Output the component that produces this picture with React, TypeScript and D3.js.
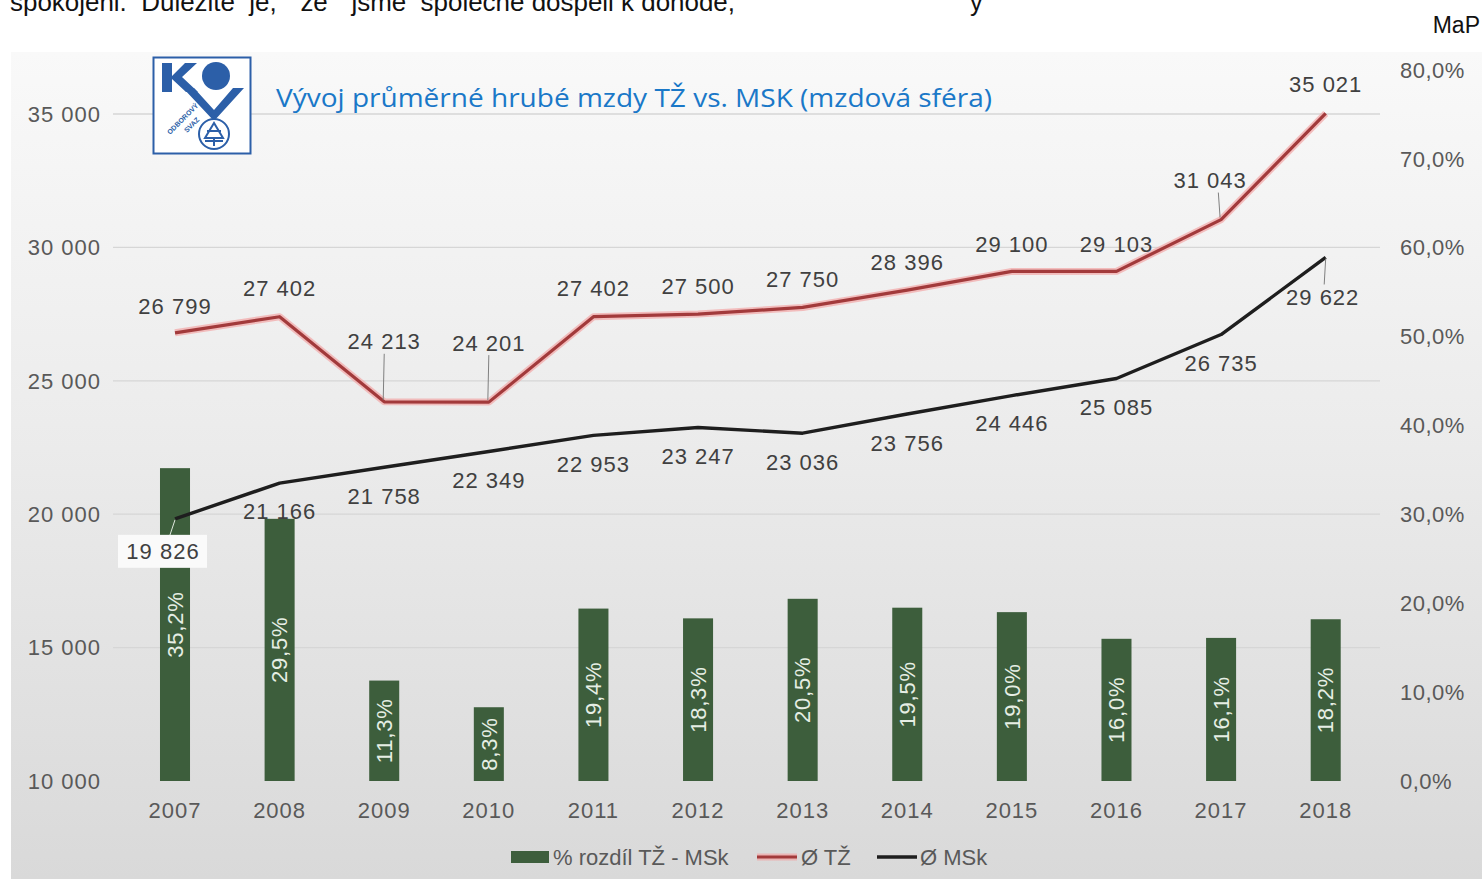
import React from "react";
import * as d3 from "d3";

const years = ["2007","2008","2009","2010","2011","2012","2013","2014","2015","2016","2017","2018"];
const diffPct = [35.2, 29.5, 11.3, 8.3, 19.4, 18.3, 20.5, 19.5, 19.0, 16.0, 16.1, 18.2];
const wageTZ = [26799, 27402, 24213, 24201, 27402, 27500, 27750, 28396, 29100, 29103, 31043, 35021];
const wageMSK = [19826, 21166, 21758, 22349, 22953, 23247, 23036, 23756, 24446, 25085, 26735, 29622];
const leftTicks = [10000, 15000, 20000, 25000, 30000, 35000];
const rightTicks = [0, 10, 20, 30, 40, 50, 60, 70, 80];
const legendLabels = ["% rozdíl TŽ - MSk", "Ø TŽ", "Ø MSk"];
const titleText = "Vývoj průměrné hrubé mzdy TŽ vs. MSK (mzdová sféra)";

// label layout offsets (dx, dy) relative to each point, and whether a leader line is drawn
const tzLabelOffset: [number, number, boolean][] = [
  [0, -27, false], [0, -28, false], [0, -60, true], [0, -59, true], [0, -28, false], [0, -28, false],
  [0, -28, false], [0, -28, false], [0, -27, false], [0, -27, false], [-11, -39, true], [0, -29, false],
];
const mskLabelOffset: [number, number, boolean][] = [
  [-12, 32, true], [0, 28, false], [0, 29, false], [0, 29, false], [0, 29, false], [0, 29, false],
  [0, 29, false], [0, 29, false], [0, 28, false], [0, 29, false], [0, 29, false], [-3, 40, true],
];

const fmt = (v: number) => d3.format(",")(v).replace(/,/g, " ");
const fmtPct = (v: number) => v.toFixed(1).replace(".", ",") + "%";

const W = 1482, H = 879;
const FONT = "'Liberation Sans', Arial, sans-serif";

export default function App() {
  const x = d3.scaleBand<string>().domain(years).range([122.7, 1378]).padding(0);
  const bw = x.bandwidth();
  const cx = (y: string) => (x(y) as number) + bw / 2;
  const barW = bw * 0.287;
  const yL = d3.scaleLinear().domain([10000, 35000]).range([781, 114]);
  const yR = d3.scaleLinear().domain([0, 80]).range([781, 70]);

  const lineGen = (vals: number[]) =>
    d3.line<number>().x((_, i) => cx(years[i])).y((v) => yL(v))(vals) as string;

  const labelStyle = { fontFamily: FONT, fontSize: 22, fill: "#404040", letterSpacing: 1 } as const;

  return (
    <svg width={W} height={H} style={{ position: "absolute", left: 0, top: 0, background: "#fff" }}>
      <defs>
        <linearGradient id="bg" x1="0" y1="0" x2="0" y2="1">
          <stop offset="0" stopColor="#f9f9f9" />
          <stop offset="0.45" stopColor="#ececec" />
          <stop offset="1" stopColor="#d9d9d9" />
        </linearGradient>
      </defs>
      {/* top text (cut at the page edge, as in the source screenshot) */}
      <text x={10} y={11} textLength={725} lengthAdjust="spacingAndGlyphs"
        style={{ fontFamily: FONT, fontSize: 25, fill: "#111", whiteSpace: "pre" }}>
        {"spokojeni.  Důležité  je,  \"že\"  jsme  společně dospěli k dohodě,"}
      </text>
      <text x={970} y={11} style={{ fontFamily: FONT, fontSize: 25, fill: "#111" }}>y</text>
      <text x={1480} y={33} textAnchor="end" style={{ fontFamily: FONT, fontSize: 23, fill: "#111" }}>MaP</text>

      {/* chart background */}
      <rect x={11} y={52} width={W - 11} height={H - 52} fill="url(#bg)" />

      {/* gridlines */}
      {leftTicks.slice(1).map((t) => (
        <line key={t} x1={113} x2={1380} y1={yL(t)} y2={yL(t)} stroke="#d6d6d6" strokeWidth={1.3} />
      ))}

      {/* left axis labels */}
      {leftTicks.map((t) => (
        <text key={t} x={101} y={yL(t)} dy="0.35em" textAnchor="end" style={{ ...labelStyle, fill: "#595959" }}>
          {fmt(t)}
        </text>
      ))}
      {/* right axis labels */}
      {rightTicks.map((t) => (
        <text key={t} x={1400} y={yR(t)} dy="0.35em" textAnchor="start" style={{ ...labelStyle, fill: "#595959", letterSpacing: 0.5 }}>
          {t.toFixed(1).replace(".", ",") + "%"}
        </text>
      ))}
      {/* x axis labels */}
      {years.map((y) => (
        <text key={y} x={cx(y)} y={810} dy="0.35em" textAnchor="middle" style={{ ...labelStyle, fill: "#595959" }}>
          {y}
        </text>
      ))}

      {/* bars */}
      {diffPct.map((v, i) => (
        <rect key={i} x={cx(years[i]) - barW / 2} y={yR(v)} width={barW} height={yR(0) - yR(v)} fill="#3d5e3c" />
      ))}
      {diffPct.map((v, i) => {
        const mx = cx(years[i]);
        const my = (yR(v) + yR(0)) / 2;
        return (
          <text key={i} transform={`translate(${mx},${my}) rotate(-90)`} textAnchor="middle" dy="0.35em"
            style={{ fontFamily: FONT, fontSize: 22, fill: "#e6eee4", letterSpacing: 0.8 }}>
            {fmtPct(v)}
          </text>
        );
      })}

      {/* title */}
      <text x={276} y={107} textLength={716} lengthAdjust="spacingAndGlyphs"
        style={{ fontFamily: "'Open Sans', 'Noto Sans', sans-serif", fontSize: 26, fill: "#1a78c8" }}>
        {titleText}
      </text>

      {/* logo */}
      <g>
        <rect x={153.5} y={57.5} width={97} height={96} fill="#fff" stroke="#2c5fa8" strokeWidth={2} />
        <path d="M162 63 h10 v13 l13 -13 h12 l-15 14 l16 15 h-12 l-14 -13 v13 h-10 z" fill="#2c5fa8" />
        <circle cx={216} cy={76} r={14} fill="#2c5fa8" />
        <path d="M183 88 h11 l20 22 l19 -22 h11 l-30 33 z" fill="#2c5fa8" />
        <text transform="translate(170,135) rotate(-45)" style={{ fontFamily: FONT, fontSize: 7, fill: "#2c5fa8", fontWeight: 700 }}>ODBOROVÝ</text>
        <text transform="translate(187,133) rotate(-45)" style={{ fontFamily: FONT, fontSize: 7, fill: "#2c5fa8", fontWeight: 700 }}>SVAZ</text>
        <circle cx={214} cy={134} r={15} fill="#fff" stroke="#2c5fa8" strokeWidth={2} />
        <path d="M214 123 l-9 15 h18 z M207 131 h14 M214 138 v8 M205 141 h18" fill="none" stroke="#2c5fa8" strokeWidth={2} />
      </g>

      {/* lines */}
      <path d={lineGen(wageTZ)} fill="none" stroke="#f2a5a5" strokeWidth={7} strokeOpacity={0.7} strokeLinejoin="round" />
      <path d={lineGen(wageTZ)} fill="none" stroke="#a23a3b" strokeWidth={3.2} strokeLinejoin="round" />
      <path d={lineGen(wageMSK)} fill="none" stroke="#1e1e1e" strokeWidth={3.4} strokeLinejoin="round" />

      {/* leader lines */}
      {wageTZ.map((v, i) => {
        const [dx, dy, lead] = tzLabelOffset[i];
        if (!lead) return null;
        const px = cx(years[i]), py = yL(v);
        return <line key={i} x1={px + dx * 0.25} y1={py + dy + 12} x2={px - 1} y2={py - 2} stroke="#808080" strokeWidth={1} />;
      })}
      {wageMSK.map((v, i) => {
        const [dx, dy, lead] = mskLabelOffset[i];
        if (!lead) return null;
        const px = cx(years[i]), py = yL(v);
        return <line key={i} x1={px + dx * 0.5} y1={py + dy - 13} x2={px} y2={py + 1} stroke={i === 0 ? "#dfe8de" : "#808080"} strokeWidth={1} />;
      })}

      {/* data labels TŽ */}
      {wageTZ.map((v, i) => {
        const [dx, dy] = tzLabelOffset[i];
        return (
          <text key={i} x={cx(years[i]) + dx} y={yL(v) + dy} dy="0.35em" textAnchor="middle" style={labelStyle}>
            {fmt(v)}
          </text>
        );
      })}
      {/* data labels MSk */}
      {wageMSK.map((v, i) => {
        const [dx, dy] = mskLabelOffset[i];
        const lx = cx(years[i]) + dx, ly = yL(v) + dy;
        return (
          <g key={i}>
            {i === 0 && <rect x={lx - 45} y={ly - 16} width={89} height={33} fill="#fafafa" />}
            <text x={lx} y={ly} dy="0.35em" textAnchor="middle" style={labelStyle}>{fmt(v)}</text>
          </g>
        );
      })}

      {/* legend */}
      <g>
        <rect x={511} y={851} width={38} height={12} fill="#3d5e3c" />
        <text x={553} y={857} dy="0.35em" style={{ ...labelStyle, fill: "#595959", letterSpacing: 0 }}>{legendLabels[0]}</text>
        <line x1={757} x2={797} y1={857} y2={857} stroke="#f2a5a5" strokeWidth={7} strokeOpacity={0.7} />
        <line x1={757} x2={797} y1={857} y2={857} stroke="#a23a3b" strokeWidth={3.2} />
        <text x={801} y={857} dy="0.35em" style={{ ...labelStyle, fill: "#595959", letterSpacing: 0 }}>{legendLabels[1]}</text>
        <line x1={877} x2={917} y1={857} y2={857} stroke="#1e1e1e" strokeWidth={3.4} />
        <text x={920} y={857} dy="0.35em" style={{ ...labelStyle, fill: "#595959", letterSpacing: 0 }}>{legendLabels[2]}</text>
      </g>
    </svg>
  );
}
